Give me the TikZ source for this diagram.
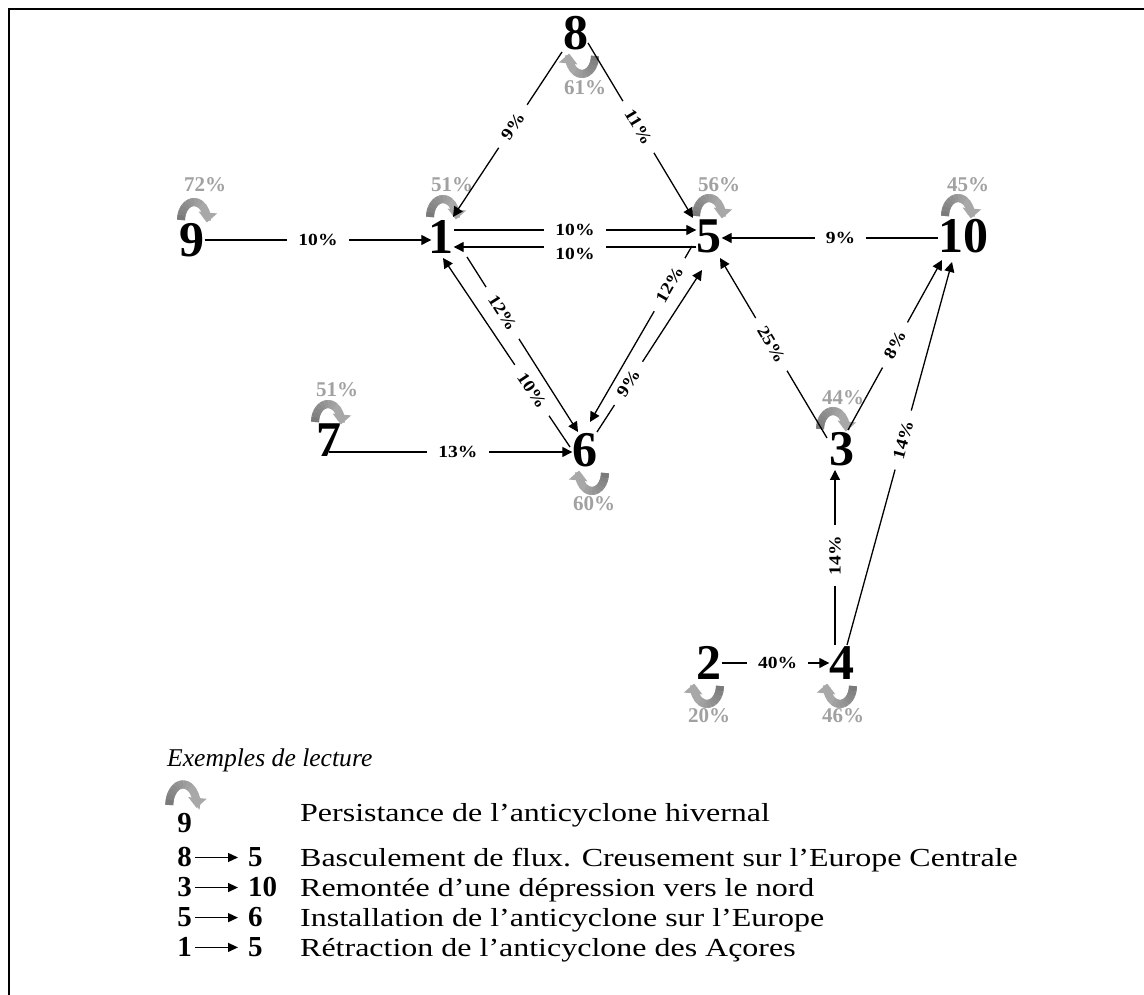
\documentclass[tikz,border=0pt]{standalone}
\usepackage{fontspec}
\setmainfont{Liberation Serif}
\newfontfamily\ratefont[FakeStretch=1.15]{Liberation Serif}
\newfontfamily\legfont[FakeStretch=1.23]{Liberation Serif}
\usetikzlibrary{arrows.meta}

\tikzset{
  state/.style={font=\fontsize{50}{50}\selectfont\bfseries,inner sep=0pt},
  flow/.style={line width=1.3pt,-{Triangle[length=10pt,width=10pt]}},
  rate/.style={font=\fontsize{17}{17}\selectfont\ratefont\bfseries,fill=white,inner xsep=11pt,inner ysep=3pt,sloped},
  persist/.style={font=\fontsize{21}{21}\selectfont\bfseries,text=black!37,inner sep=0pt},
  loopline/.style={line width=8pt},
  looptip/.style={-{Triangle[length=10pt,width=18pt]}},
  legnum/.style={font=\fontsize{29}{29}\selectfont\bfseries,inner sep=0pt},
  legtext/.style={font=\fontsize{26}{26}\selectfont\legfont,anchor=base west,inner sep=0pt},
  legarrow/.style={line width=1.3pt,-{Triangle[length=10pt,width=9pt]}},
  % persistence loops: dark at the start, light at the tip
  loopup/.pic={
    \draw[loopline,draw=black!34,looptip] (-13,0) arc[start angle=180,end angle=-8,x radius=13,y radius=18];
    \foreach \a [evaluate=\a as \c using {int(52-(180-\a)*0.14)}] in {180,165,...,75}
      \draw[loopline,draw=black!\c] ({13*cos(\a)},{18*sin(\a)}) arc[start angle=\a,end angle=\a-16,x radius=13,y radius=18];
  },
  loopdown/.pic={
    \draw[loopline,draw=black!34,looptip] (13,0) arc[start angle=0,end angle=-188,x radius=13,y radius=18];
    \foreach \a [evaluate=\a as \c using {int(52+\a*0.14)}] in {0,-15,...,-105}
      \draw[loopline,draw=black!\c] ({13*cos(\a)},{18*sin(\a)}) arc[start angle=\a,end angle=\a-16,x radius=13,y radius=18];
  }
}

\begin{document}
\begin{tikzpicture}[x=1pt,y=1pt]
  \useasboundingbox (0,0) rectangle (1144,995);
  \draw[line width=2.3pt,line join=miter] (9,0) -- (9,986) -- (1144,986);

  % types de temps
  \node[state] (n8) at (576,962) {8};
  \node[state] (n9) at (192,755) {9};
  \node[state] (n1) at (441,758) {1};
  \node[state] (n5) at (709,759) {5};
  \node[state] (n10) at (963,759) {10};
  \node[state] (n7) at (329,555) {7};
  \node[state] (n6) at (585,545) {6};
  \node[state] (n3) at (842,546) {3};
  \node[state] (n2) at (709,332) {2};
  \node[state] (n4) at (842,332) {4};

  % persistance
  \pic at ([shift={(2,20)}]n9.center) {loopup};
  \pic at ([shift={(2,20)}]n1.center) {loopup};
  \pic at ([shift={(0,20)}]n5.center) {loopup};
  \pic at ([shift={(-5,20)}]n10.center) {loopup};
  \pic at ([shift={(-1,18)}]n7.center) {loopup};
  \pic at ([shift={(-9,20)}]n3.center) {loopup};
  \pic at ([shift={(6,-23)}]n8.center) {loopdown};
  \pic at ([shift={(7,-23)}]n6.center) {loopdown};
  \pic at ([shift={(-2,-23)}]n2.center) {loopdown};
  \pic at ([shift={(-2,-23)}]n4.center) {loopdown};
  \node[persist] (p9) at ([shift={(13,55)}]n9.center) {72\%};
  \node[persist] (p1) at ([shift={(11,52)}]n1.center) {51\%};
  \node[persist] (p5) at ([shift={(10,51)}]n5.center) {56\%};
  \node[persist] (p10) at ([shift={(5,51)}]n10.center) {45\%};
  \node[persist] (p7) at ([shift={(8,50)}]n7.center) {51\%};
  \node[persist] (p3) at ([shift={(1,51)}]n3.center) {44\%};
  \node[persist] (p8) at ([shift={(9,-55)}]n8.center) {61\%};
  \node[persist] (p6) at ([shift={(9,-54)}]n6.center) {60\%};
  \node[persist] (p2) at ([shift={(0,-53)}]n2.center) {20\%};
  \node[persist] (p4) at ([shift={(1,-53)}]n4.center) {46\%};

  % transitions
  \draw[flow] (n9.east) -- ([xshift=3]n9.east -| n1.west) node[rate,pos=0.5] (r91) {10\%};
  \draw[flow] ([yshift=7]n1.east) -- ([yshift=7]n1.east -| n5.west) node[rate,midway] (r15) {10\%};
  \draw[flow] ([yshift=-11]n5.west) -- ([yshift=-11]n5.west -| n1.east) node[rate,midway,yshift=-7pt] (r51) {10\%};
  \draw[flow] ([shift={(-14,-19)}]n8.center) -- ([shift={(12,20)}]n1.center) node[rate,pos=0.45] (r81) {9\%};
  \draw[flow] ([shift={(12,-10)}]n8.center) -- ([shift={(-16,18)}]n5.center) node[rate,pos=0.48] (r85) {11\%};
  \draw[flow] ([yshift=-2]n10.west) -- ([yshift=-2]n10.west -| n5.east) node[rate,pos=0.45] (r105) {9\%};
  \draw[flow] ([shift={(-15,3)}]n6.center) -- ([shift={(2,-21)}]n1.center) node[rate,pos=0.3] (r61) {10\%};
  \draw[flow] ([shift={(26,-20)}]n1.center) -- ([shift={(-7,18)}]n6.center) node[rate,pos=0.32] (r16) {12\%};
  \draw[flow] ([shift={(-17,-10)}]n5.center) -- ([shift={(5,28)}]n6.center) node[rate,pos=0.22] (r56) {12\%};
  \draw[flow] ([shift={(12,18)}]n6.center) -- ([shift={(-7,-34)}]n5.center) node[rate,pos=0.3] (r65) {9\%};
  \draw[flow] ([shift={(-15,11)}]n3.center) -- ([shift={(11,-22)}]n5.center) node[rate,pos=0.52] (r35) {25\%};
  \draw[flow] ([shift={(6,19)}]n3.center) -- ([shift={(-21,-24)}]n10.center) node[rate,pos=0.5] (r310) {8\%};
  \draw[flow] ([shift={(5,18)}]n4.center) -- ([shift={(-11,-26)}]n10.center) node[rate,pos=0.535] (r410) {14\%};
  \draw[flow] ([shift={(-7,18)}]n4.center) -- ([shift={(-7,-21)}]n3.center) node[rate,pos=0.51] (r43) {14\%};
  \draw[flow] (n2.east) -- (n2.east -| n4.west) node[rate,pos=0.52] (r24) {40\%};
  \draw[flow] ([yshift=-12]n7.center) -- ([yshift=-12]n7.center -| n6.west) node[rate,pos=0.53] (r76) {13\%};

  % legende
  \node[legtext,font=\fontsize{25.6}{25.6}\selectfont\itshape] (legtitle) at (167,228) {Exemples de lecture};
  \node[legnum] (leg9) at (184.5,172) {9};
  \pic[xscale=1.05,yscale=1.15] at ([shift={(-1.5,18)}]leg9.center) {loopup};
  \node[legtext] (txt9) at (300,173) {Persistance de l’anticyclone hivernal};
  \foreach \a/\b/\t [count=\i] in {8/5/{Basculement de flux. Creusement sur l’Europe Centrale},
      3/10/{Remontée d’une dépression vers le nord},
      5/6/{Installation de l’anticyclone sur l’Europe},
      1/5/{Rétraction de l’anticyclone des Açores}}{
    \node[legnum,anchor=base east] (la\i) at (192,158-30*\i) {\a};
    \node[legnum,anchor=base west] (lb\i) at (248,158-30*\i) {\b};
    \draw[legarrow] ([xshift=3]la\i.east) -- ([xshift=-10]la\i.east -| lb\i.west);
    \node[legtext] (txt\i) at (300,158-30*\i) {\t};
  }
\end{tikzpicture}
\end{document}
